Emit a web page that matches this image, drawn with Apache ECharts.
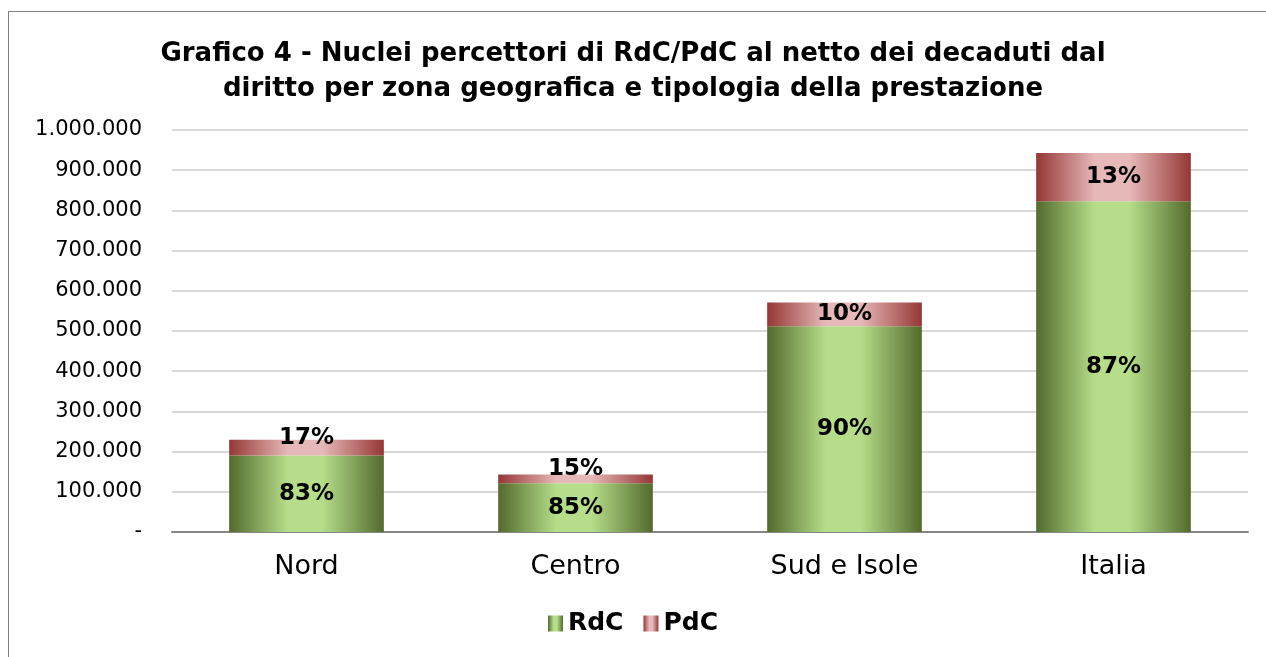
<!DOCTYPE html>
<html>
<head>
<meta charset="utf-8">
<script src="https://cdn.jsdelivr.net/npm/echarts@6/dist/echarts.min.js"></script>
<style>
  html, body { margin: 0; padding: 0; background: #fff; }
  #main { width: 1266px; height: 657px; }
  #frame { position: absolute; left: 8px; top: 11px; width: 1270px; height: 660px; border: 1px solid #7f7f7f; pointer-events: none; }
</style>
</head>
<body>
<div id="main"></div>
<div id="frame"></div>
<script>
// zone geografiche
var zone = ['Nord', 'Centro', 'Sud e Isole', 'Italia'];
// nuclei percettori (stime)
var rdc = [190000, 121000, 512000, 823000];
var pdc = [39500, 22000, 59000, 120000];
var yTicks = [0, 100000, 200000, 300000, 400000, 500000, 600000, 700000, 800000, 900000, 1000000];

var font = 'DejaVu Sans';

function gradiente(scuro, chiaro) {
  return new echarts.graphic.LinearGradient(0, 0, 1, 0, [
    { offset: 0, color: scuro },
    { offset: 0.38, color: chiaro },
    { offset: 0.6, color: chiaro },
    { offset: 1, color: scuro }
  ]);
}

function fmtMigliaia(v) {
  if (v === 0) return '-';
  return String(v).replace(/\B(?=(\d{3})+(?!\d))/g, '.');
}

// etichette percentuali sulla quota del totale
function datiSerie(valori) {
  return valori.map(function (v, i) {
    var tot = rdc[i] + pdc[i];
    var item = { value: v, pct: Math.round(v / tot * 100) + '%' };
    if (v < 45000) {
      item.label = { offset: [0, -10] };
    }
    return item;
  });
}

var chart = echarts.init(document.getElementById('main'));

var etichetta = {
  show: true,
  position: 'inside',
  fontFamily: font,
  fontSize: 23,
  fontWeight: 'bold',
  color: '#000',
  formatter: function (p) { return p.data.pct; }
};

var option = {
  backgroundColor: '#fff',
  animation: false,
  title: {
    text: 'Grafico 4 - Nuclei percettori di RdC/PdC al netto dei decaduti dal\ndiritto per zona geografica e tipologia della prestazione',
    left: 'center',
    top: 32,
    textStyle: {
      fontFamily: font,
      fontSize: 26,
      fontWeight: 'bold',
      color: '#000',
      lineHeight: 35
    }
  },
  legend: {
    top: 606,
    left: 'center',
    icon: 'rect',
    itemWidth: 15,
    itemHeight: 16,
    itemGap: 20,
    textStyle: { fontFamily: font, fontSize: 25, fontWeight: 'bold', color: '#000', padding: [0, 0, 0, 0] },
    data: ['RdC', 'PdC']
  },
  grid: {
    left: 172,
    right: 18,
    top: 130,
    bottom: 125,
    containLabel: false
  },
  xAxis: {
    type: 'category',
    data: zone,
    axisLine: { lineStyle: { color: '#868686', width: 2 } },
    axisTick: { show: false },
    axisLabel: { fontFamily: font, fontSize: 27, color: '#000', margin: 21 }
  },
  yAxis: {
    type: 'value',
    min: yTicks[0],
    max: yTicks[yTicks.length - 1],
    interval: 100000,
    axisLine: { show: false },
    axisTick: { show: false },
    splitLine: { lineStyle: { color: '#d9d9d9', width: 2 } },
    axisLabel: {
      fontFamily: font,
      fontSize: 21,
      color: '#000',
      margin: 30,
      formatter: fmtMigliaia
    }
  },
  series: [
    {
      name: 'RdC',
      type: 'bar',
      stack: 'tot',
      barWidth: '57.5%',
      data: datiSerie(rdc),
      itemStyle: { color: gradiente('#536a2d', '#b6de8a') },
      label: etichetta
    },
    {
      name: 'PdC',
      type: 'bar',
      stack: 'tot',
      barWidth: '57.5%',
      data: datiSerie(pdc),
      itemStyle: { color: gradiente('#953735', '#e6b9b8') },
      label: etichetta
    }
  ]
};

chart.setOption(option);
</script>
</body>
</html>
